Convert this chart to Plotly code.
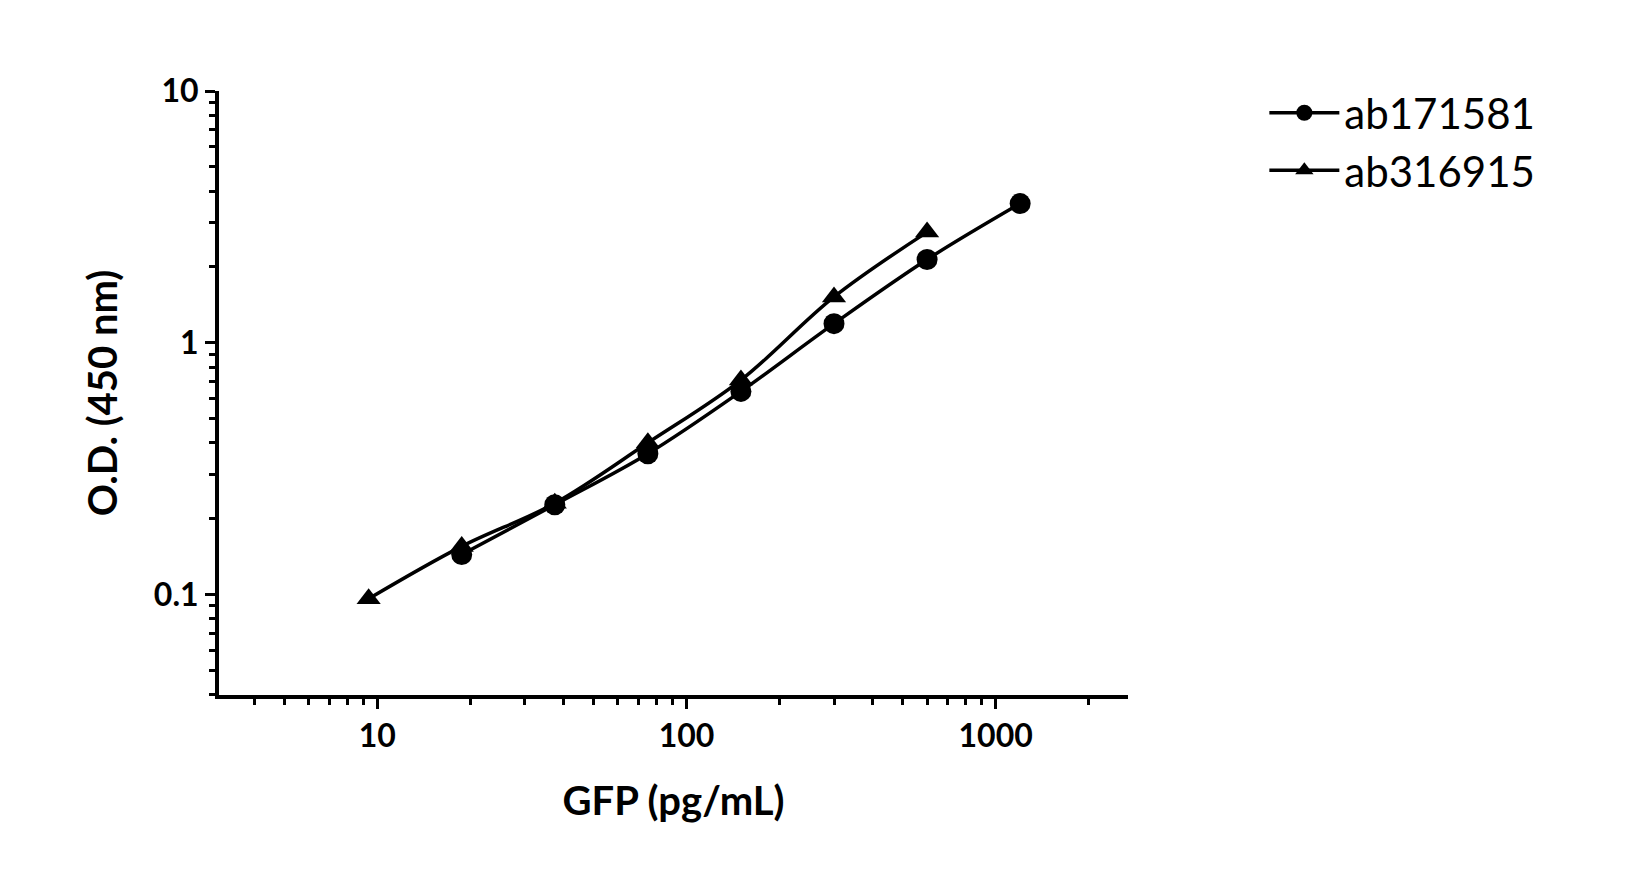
import plotly.graph_objects as go

conc_a = [18.75, 37.5, 75, 150, 300, 600, 1200]
od_a = [0.144, 0.227, 0.362, 0.64, 1.19, 2.14, 3.57]
conc_b = [9.375, 18.75, 37.5, 75, 150, 300, 600]
od_b = [0.096, 0.155, 0.23, 0.40, 0.71, 1.52, 2.75]
names = ["ab171581", "ab316915"]

fig = go.Figure()
fig.add_trace(go.Scatter(x=conc_a, y=od_a, name=names[0], mode="lines+markers",
                         line=dict(color="black", width=3.5, shape="spline"),
                         marker=dict(symbol="circle", size=21, color="black")))
fig.add_trace(go.Scatter(x=conc_b, y=od_b, name=names[1], mode="lines+markers",
                         line=dict(color="black", width=3.5, shape="spline"),
                         marker=dict(symbol="triangle-up", size=21, color="black")))

axis_common = dict(type="log", showgrid=False, zeroline=False, showline=True,
                   linecolor="black", linewidth=4, ticks="outside", ticklen=10,
                   tickwidth=3, tickcolor="black", dtick=1,
                   tickfont=dict(family="Lato", size=32, color="black", weight="bold"),
                   minor=dict(ticks="outside", ticklen=6, tickwidth=2.5, tickcolor="black", dtick="D1"))

fig.update_xaxes(**axis_common, range=[0.488, 3.428],
                 title=dict(text="<b>GFP (pg/mL)</b>", font=dict(family="Lato", size=40, color="black"), standoff=35))
fig.update_yaxes(**axis_common, range=[-1.40, 1.0],
                 title=dict(text="<b>O.D. (450 nm)</b>", font=dict(family="Lato", size=40, color="black"), standoff=25))

fig.update_layout(width=1625, height=878, plot_bgcolor="white", paper_bgcolor="white",
                  margin=dict(l=211, r=505, t=83, b=191),
                  legend=dict(x=1.15, y=1.02, xanchor="left", yanchor="top",
                              font=dict(family="Lato", size=42, color="black"),
                              itemwidth=70))
fig.write_html("out.html")
